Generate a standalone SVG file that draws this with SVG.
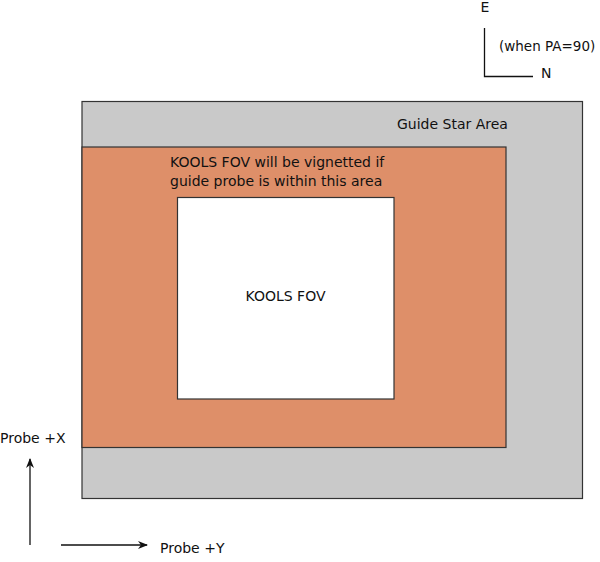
<svg xmlns="http://www.w3.org/2000/svg" width="600" height="562" viewBox="0 0 600 562">
<style>
text{font-family:"DejaVu Sans","Liberation Sans",sans-serif;font-size:14px;fill:#111}
.box{stroke:#333;stroke-width:1.2}
.ln{stroke:#111;stroke-width:1.3;fill:none}
</style>
<defs>
<marker id="ah" markerWidth="10" markerHeight="10" refX="9" refY="5" orient="auto" markerUnits="userSpaceOnUse">
<path d="M0,1 L10,5 L0,9 L3,5 Z" fill="#111"/>
</marker>
</defs>
<rect width="600" height="562" fill="#fff"/>
<g id="guide-star-area">
<rect class="box" x="82" y="101.5" width="500.5" height="397" fill="#c9c9c9"/>
<text x="397" y="129">Guide Star Area</text>
</g>
<g id="vignette-area">
<rect class="box" x="82" y="147" width="424" height="300.5" fill="#de8f69"/>
<text x="170" y="167">KOOLS FOV will be vignetted if</text>
<text x="170" y="185.5">guide probe is within this area</text>
</g>
<g id="kools-fov">
<rect class="box" x="177.5" y="197.5" width="216.5" height="201.5" fill="#fff"/>
<text x="285.5" y="301" text-anchor="middle">KOOLS FOV</text>
</g>
<g id="orientation">
<text x="485" y="12" text-anchor="middle">E</text>
<text x="499" y="51" style="font-size:13.5px">(when PA=90)</text>
<text x="541" y="78">N</text>
</g>
<g id="probe-x-label"><text x="0" y="443">Probe +X</text></g>
<g id="probe-y-label"><text x="160" y="553">Probe +Y</text></g>
<g id="connectors">
<path class="ln" d="M484.5,28 V76.5 H533"/>
<line class="ln" x1="30" y1="545" x2="30" y2="459" marker-end="url(#ah)"/>
<line class="ln" x1="61" y1="545" x2="147" y2="545" marker-end="url(#ah)"/>
</g>
</svg>
